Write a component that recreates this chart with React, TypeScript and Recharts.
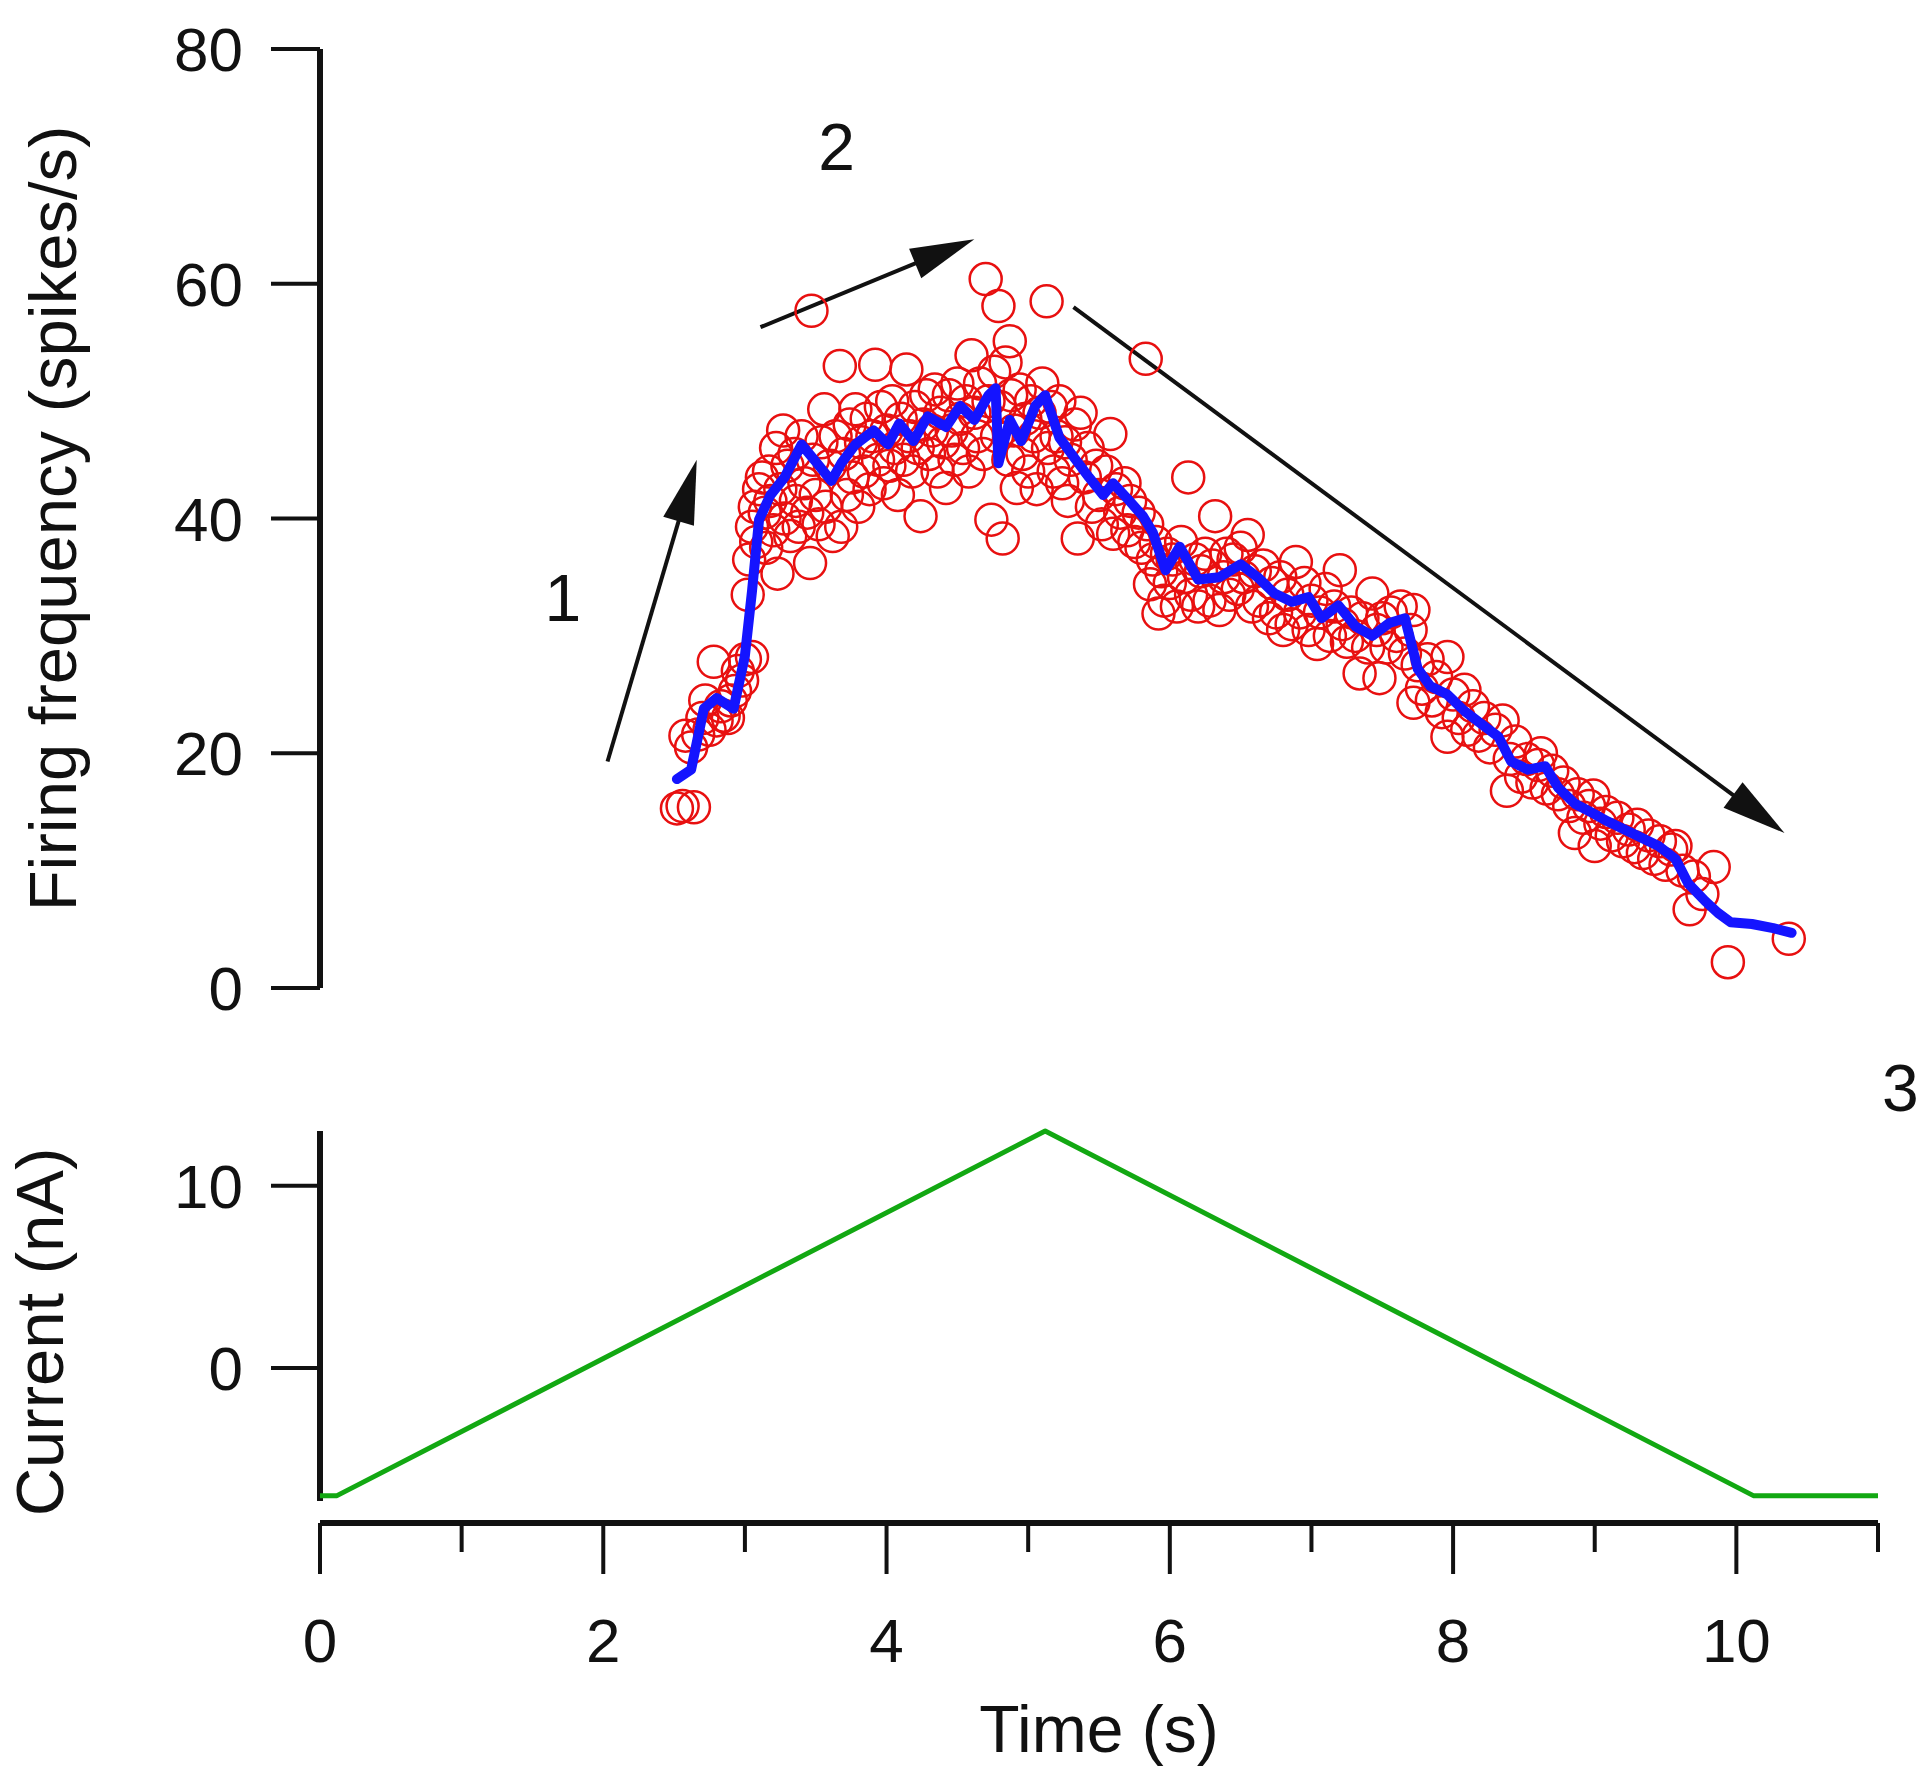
import React from 'react';
import { ComposedChart, Line, Scatter, XAxis, YAxis, ReferenceLine, ReferenceDot } from 'recharts';

// ---------- tick labels ----------
const timeTicks = [0, 1, 2, 3, 4, 5, 6, 7, 8, 9, 10, 11];
const freqTicks = [0, 20, 40, 60, 80];
const currentTicks = [0, 10];

// ---------- firing frequency: individual instantaneous rates (time s, spikes/s) ----------
const spikeRates: [number, number][] = [
  [2.52, 15.3], [2.56, 15.5], [2.64, 15.4], [2.58, 21.5], [2.62, 20.5], [2.67, 21.6], [2.7, 23.0], [2.72, 24.5],
  [2.75, 22.0], [2.78, 27.8], [2.8, 22.8], [2.83, 24.0], [2.85, 23.2], [2.88, 23.0], [2.9, 24.5], [2.93, 25.3],
  [2.95, 27.0], [2.98, 26.2], [3.0, 28.0], [3.02, 33.5], [3.05, 28.2],
  [3.03, 36.5], [3.05, 39.3], [3.07, 41.0], [3.08, 38.0], [3.1, 42.5], [3.12, 43.5], [3.14, 40.5], [3.15, 37.5],
  [3.17, 44.0], [3.18, 41.5], [3.2, 39.0], [3.22, 46.0], [3.23, 35.3], [3.25, 42.5], [3.27, 47.5], [3.28, 40.0], [3.3, 44.5],
  [3.32, 38.5], [3.35, 45.5], [3.36, 41.5], [3.38, 39.3], [3.4, 47.0], [3.42, 43.0], [3.44, 40.5], [3.46, 36.2],
  [3.47, 57.7], [3.48, 45.0], [3.5, 42.0], [3.52, 39.5], [3.54, 46.5], [3.56, 49.3], [3.57, 41.0], [3.6, 44.5],
  [3.62, 38.5], [3.64, 47.0], [3.67, 53.0], [3.68, 39.3], [3.7, 45.5], [3.72, 42.0], [3.74, 48.0], [3.76, 43.5],
  [3.78, 49.3], [3.8, 41.0], [3.82, 46.5], [3.84, 44.0], [3.86, 48.5], [3.88, 42.5], [3.9, 47.0], [3.92, 53.1],
  [3.94, 45.0], [3.96, 49.5], [3.98, 43.0],
  [4.0, 47.5], [4.02, 44.5], [4.04, 50.0], [4.06, 46.0], [4.08, 42.0], [4.1, 48.5], [4.12, 45.0], [4.14, 52.7],
  [4.16, 47.0], [4.18, 44.0], [4.2, 49.5], [4.22, 46.0], [4.24, 40.2], [4.26, 48.0], [4.28, 50.5], [4.3, 45.5],
  [4.32, 47.5], [4.34, 51.0], [4.36, 44.0], [4.38, 49.0], [4.4, 46.5], [4.42, 42.6], [4.44, 50.5], [4.46, 47.5],
  [4.48, 45.0], [4.5, 51.5], [4.52, 48.5], [4.54, 46.0], [4.56, 50.0], [4.58, 44.0], [4.6, 53.9], [4.62, 49.0],
  [4.64, 47.0], [4.66, 51.5], [4.68, 45.5], [4.7, 60.4], [4.72, 50.0], [4.74, 39.9], [4.76, 52.5], [4.78, 47.0],
  [4.79, 58.1], [4.8, 49.5], [4.82, 38.3], [4.84, 53.3], [4.86, 45.0], [4.87, 55.1], [4.88, 50.5], [4.9, 47.5],
  [4.92, 42.6], [4.94, 51.0], [4.96, 45.5], [4.98, 48.5], [5.0, 44.0], [5.02, 50.0], [5.04, 47.0], [5.06, 42.5],
  [5.08, 49.0], [5.1, 51.5], [5.13, 58.5], [5.14, 46.0], [5.16, 49.5], [5.18, 44.0], [5.2, 47.0], [5.22, 50.0],
  [5.24, 43.0], [5.26, 46.5], [5.28, 41.5], [5.3, 45.0], [5.33, 48.0], [5.35, 38.3], [5.37, 49.0], [5.4, 43.5],
  [5.42, 46.0], [5.45, 41.0], [5.48, 44.5], [5.5, 42.0], [5.52, 39.5], [5.55, 44.0], [5.58, 47.2], [5.6, 38.7],
  [5.62, 42.5], [5.65, 40.5], [5.68, 43.0], [5.7, 39.0], [5.72, 41.5], [5.75, 38.0], [5.78, 40.5], [5.8, 37.5],
  [5.83, 53.6], [5.84, 39.5], [5.86, 34.4], [5.88, 36.5], [5.9, 38.0],
  [5.92, 31.9], [5.94, 35.5], [5.96, 33.0], [5.98, 37.0], [6.0, 34.5], [6.02, 36.5], [6.05, 32.5], [6.08, 38.0],
  [6.1, 35.0], [6.13, 43.5], [6.15, 33.5], [6.18, 36.5], [6.2, 32.5], [6.22, 35.5], [6.25, 37.0], [6.28, 33.0],
  [6.3, 36.0], [6.32, 40.2], [6.35, 32.2], [6.38, 35.0], [6.4, 37.0], [6.42, 33.5], [6.45, 36.5], [6.48, 34.0],
  [6.5, 37.5], [6.52, 35.0], [6.55, 38.6], [6.58, 32.5], [6.6, 35.5], [6.63, 33.0], [6.66, 36.0], [6.7, 31.5],
  [6.72, 34.5], [6.75, 32.0], [6.78, 35.0], [6.8, 30.5], [6.83, 33.5], [6.86, 31.0], [6.89, 36.3], [6.92, 32.0],
  [6.95, 34.5], [6.98, 30.5], [7.0, 33.0], [7.04, 29.3], [7.06, 32.0], [7.1, 34.0], [7.13, 30.0], [7.16, 32.5],
  [7.2, 35.6], [7.22, 31.0], [7.25, 29.5], [7.28, 32.0], [7.31, 30.0], [7.34, 26.8], [7.36, 31.5], [7.4, 29.0],
  [7.43, 33.6], [7.46, 30.5], [7.48, 26.4], [7.5, 31.5], [7.53, 29.0], [7.56, 32.0], [7.6, 30.0], [7.63, 32.5],
  [7.66, 28.5], [7.7, 30.5], [7.72, 32.2], [7.72, 24.3],
  [7.75, 27.5], [7.78, 25.5], [7.82, 28.0], [7.85, 24.5], [7.88, 26.5], [7.92, 23.5], [7.96, 28.2], [7.96, 21.4],
  [8.0, 25.0], [8.04, 23.0], [8.08, 25.4], [8.1, 22.0], [8.14, 24.0], [8.18, 21.5], [8.22, 23.0], [8.26, 20.5],
  [8.3, 22.0], [8.35, 22.8], [8.38, 16.8], [8.4, 19.5], [8.44, 21.0], [8.48, 18.0], [8.52, 19.5], [8.56, 17.5],
  [8.6, 19.0], [8.62, 20.0], [8.66, 17.0], [8.7, 18.5], [8.74, 16.5], [8.78, 17.5], [8.82, 15.5], [8.86, 13.2],
  [8.88, 16.5], [8.92, 14.5], [8.96, 15.5], [8.99, 16.4], [9.0, 12.1], [9.04, 14.0], [9.08, 15.0], [9.12, 13.0],
  [9.16, 14.5], [9.2, 12.5], [9.24, 13.5], [9.28, 12.0], [9.3, 13.9], [9.34, 11.5], [9.38, 13.0], [9.42, 11.0],
  [9.46, 12.5], [9.5, 10.5], [9.54, 11.8], [9.57, 12.1], [9.62, 10.0], [9.67, 6.7], [9.7, 9.5], [9.76, 8.0],
  [9.84, 10.3], [9.94, 2.2], [10.37, 4.2],
];

// ---------- firing frequency: running mean (time s, spikes/s) ----------
const meanRate: [number, number][] = [
  [2.52, 17.8], [2.62, 18.6], [2.71, 23.8], [2.8, 24.7], [2.92, 23.8], [3.0, 28.3], [3.05, 33.8], [3.1, 39.9],
  [3.18, 42.0], [3.28, 43.5], [3.4, 46.3], [3.51, 44.7], [3.61, 43.2], [3.68, 44.7], [3.78, 46.3], [3.91, 47.5],
  [4.01, 46.3], [4.09, 48.1], [4.19, 46.6], [4.29, 48.7], [4.42, 47.8], [4.52, 49.6], [4.62, 48.4], [4.72, 50.5],
  [4.77, 51.1], [4.79, 44.7], [4.87, 48.4], [4.95, 46.6], [5.05, 49.6], [5.12, 50.5], [5.22, 46.9], [5.33, 45.1],
  [5.43, 43.5], [5.53, 42.0], [5.6, 43.0], [5.7, 41.7], [5.81, 40.2], [5.88, 38.8], [5.97, 35.6], [6.07, 37.6],
  [6.2, 34.8], [6.35, 35.0], [6.5, 36.1], [6.62, 35.0], [6.74, 33.6], [6.86, 32.9], [6.98, 33.3], [7.07, 31.5],
  [7.19, 32.6], [7.31, 30.8], [7.43, 30.0], [7.55, 31.1], [7.66, 31.5], [7.75, 27.2], [7.84, 25.7], [7.96, 25.0],
  [8.08, 23.6], [8.2, 22.5], [8.32, 21.4], [8.41, 19.3], [8.53, 18.6], [8.65, 18.9], [8.74, 17.1], [8.86, 15.7],
  [8.97, 15.0], [9.09, 14.2], [9.21, 13.5], [9.33, 12.8], [9.45, 12.1], [9.57, 11.0], [9.66, 8.9], [9.78, 7.4],
  [9.87, 6.4], [9.96, 5.6], [10.11, 5.45], [10.26, 5.1], [10.39, 4.7],
];

// ---------- injected current ramp (time s, nA) ----------
const currentTime = [0, 0.12, 5.12, 10.12, 11];
const currentNA = [-7, -7, 13, -7, -7];

// ---------- annotations (data coordinates) ----------
const arrowTails: [number, number][] = [[2.03, 19.3], [3.11, 56.3], [5.32, 58.0]];
const arrowTips: [number, number][] = [[2.66, 45.0], [4.62, 63.8], [10.34, 13.2]];
const phaseLabels = ['1', '2'];
const phaseLabelPos: [number, number][] = [[1.715, 33.3], [3.648, 71.7]];
const rampEndLabel = '3';
const rampEndLabelPos: [number, number] = [11.157, 15.4];

const FONT = '"Liberation Sans", Arial, Helvetica, sans-serif';
const INK = '#111';

const spikeData = spikeRates.map(([t, f]) => ({ t, f }));
const meanData = meanRate.map(([t, f]) => ({ t, f }));
const currentData = currentTime.map((t, i) => ({ t, i: currentNA[i] }));

const Ring = (props: any) => {
  const { cx, cy } = props;
  if (cx == null || cy == null) return null;
  return <circle cx={cx} cy={cy} r={16} fill="none" stroke="#e81010" strokeWidth={2.5} />;
};

const ArrowShape = (props: any) => {
  const x1 = Number(props.x1), y1 = Number(props.y1), x2 = Number(props.x2), y2 = Number(props.y2);
  const dx = x2 - x1, dy = y2 - y1;
  const len = Math.hypot(dx, dy) || 1;
  const ux = dx / len, uy = dy / len;
  const hl = 64, hw = 16;
  const bx = x2 - ux * hl, by = y2 - uy * hl;
  const px = -uy, py = ux;
  return (
    <g>
      <line x1={x1} y1={y1} x2={bx + ux * 6} y2={by + uy * 6} stroke={INK} strokeWidth={4} />
      <polygon
        points={`${x2},${y2} ${bx + px * hw},${by + py * hw} ${bx - px * hw},${by - py * hw}`}
        fill={INK}
      />
    </g>
  );
};

const TimeTick = (props: any) => {
  const { x, y, payload } = props;
  const v = payload.value;
  const major = v % 2 === 0;
  return (
    <g>
      <line x1={x} x2={x} y1={y} y2={y + (major ? 51 : 29)} stroke={INK} strokeWidth={4} />
      {major && (
        <text x={x} y={y + 139} textAnchor="middle" fontSize={62} fontFamily={FONT} fill={INK}>
          {v}
        </text>
      )}
    </g>
  );
};

const yTitle = (text: string, baselineX: number, shift: number) => (p: any) => {
  const vb = p.viewBox || {};
  const cy = (vb.y || 0) + (vb.height || 0) / 2 + shift;
  return (
    <text
      x={baselineX}
      y={cy}
      transform={`rotate(-90, ${baselineX}, ${cy})`}
      textAnchor="middle"
      fontSize={67}
      fontFamily={FONT}
      fill={INK}
    >
      {text}
    </text>
  );
};

const xTitle = (p: any) => {
  const vb = p.viewBox || {};
  return (
    <text
      x={(vb.x || 0) + (vb.width || 0) / 2}
      y={(vb.y || 0) + 229}
      textAnchor="middle"
      fontSize={66}
      fontFamily={FONT}
      fill={INK}
    >
      Time (s)
    </text>
  );
};

export default function App() {
  return (
    <div style={{ position: 'absolute', left: 0, top: 0, width: 1920, height: 1769, background: '#fff', fontFamily: FONT }}>
      <div style={{ position: 'absolute', left: 0, top: 1000 }}>
        <ComposedChart width={1920} height={769} data={currentData} margin={{ top: 131, right: 42, bottom: 0, left: 0 }}>
          <XAxis
            type="number"
            dataKey="t"
            domain={[0, 11]}
            ticks={timeTicks}
            interval={0}
            height={246}
            axisLine={{ stroke: INK, strokeWidth: 6 }}
            tickLine={false}
            tickSize={0}
            tickMargin={0}
            tick={<TimeTick />}
            label={{ content: xTitle }}
          />
          <YAxis
            type="number"
            domain={[-8.5, 13]}
            ticks={currentTicks}
            interval={0}
            width={320}
            axisLine={false}
            tickLine={{ stroke: INK, strokeWidth: 4 }}
            tickSize={49}
            tickMargin={28}
            tick={{ fontSize: 62, fill: INK, fontFamily: FONT }}
            label={{ content: yTitle('Current (nA)', 63, 5) }}
          />
          <ReferenceLine
            segment={[{ x: 0, y: -7.3 }, { x: 0, y: 13 }]}
            stroke={INK}
            strokeWidth={6}
            ifOverflow="visible"
          />
          <Line
            dataKey="i"
            type="linear"
            stroke="#12a812"
            strokeWidth={5}
            strokeLinejoin="round"
            dot={false}
            activeDot={false}
            isAnimationActive={false}
          />
          <ReferenceDot
            x={rampEndLabelPos[0]}
            y={rampEndLabelPos[1]}
            r={0}
            fill="none"
            stroke="none"
            ifOverflow="visible"
            label={{ value: rampEndLabel, position: 'center', fontSize: 66, fill: INK, fontFamily: FONT }}
          />
        </ComposedChart>
      </div>
      <div style={{ position: 'absolute', left: 0, top: 0 }}>
        <ComposedChart width={1920} height={1050} margin={{ top: 49, right: 42, bottom: 62, left: 0 }}>
          <XAxis type="number" dataKey="t" domain={[0, 11]} hide height={0} allowDataOverflow />
          <YAxis
            type="number"
            dataKey="f"
            domain={[0, 80]}
            ticks={freqTicks}
            interval={0}
            width={320}
            axisLine={{ stroke: INK, strokeWidth: 6 }}
            tickLine={{ stroke: INK, strokeWidth: 4 }}
            tickSize={49}
            tickMargin={28}
            tick={{ fontSize: 62, fill: INK, fontFamily: FONT }}
            label={{ content: yTitle('Firing frequency (spikes/s)', 76, 0) }}
          />
          <Scatter data={spikeData} dataKey="f" shape={Ring} isAnimationActive={false} />
          <Line
            data={meanData}
            dataKey="f"
            type="linear"
            stroke="#1414ff"
            strokeWidth={10}
            strokeLinejoin="round"
            strokeLinecap="round"
            dot={false}
            activeDot={false}
            isAnimationActive={false}
            zIndex={700}
          />
          {arrowTails.map((tail, k) => (
            <ReferenceLine
              key={`arrow-${k}`}
              segment={[{ x: tail[0], y: tail[1] }, { x: arrowTips[k][0], y: arrowTips[k][1] }]}
              ifOverflow="visible"
              shape={ArrowShape}
            />
          ))}
          {phaseLabels.map((txt, k) => (
            <ReferenceDot
              key={`lab-${k}`}
              x={phaseLabelPos[k][0]}
              y={phaseLabelPos[k][1]}
              r={0}
              fill="none"
              stroke="none"
              ifOverflow="visible"
              label={{ value: txt, position: 'center', fontSize: 66, fill: INK, fontFamily: FONT }}
            />
          ))}
        </ComposedChart>
      </div>
    </div>
  );
}
